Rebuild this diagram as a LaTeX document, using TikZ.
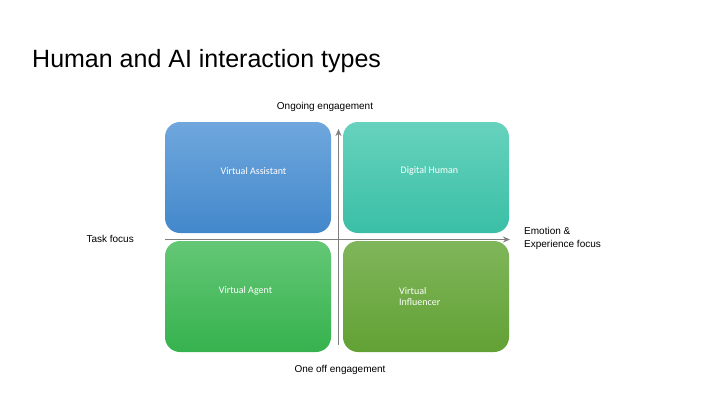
\documentclass[tikz,border=0pt]{standalone}
\usepackage{fontspec}
\setmainfont{Liberation Sans}
\newfontfamily\boxfont{Carlito}
\usetikzlibrary{arrows.meta}
\definecolor{vatop}{HTML}{6FA7DD}
\definecolor{vabot}{HTML}{4388CB}
\definecolor{dhtop}{HTML}{67D2BD}
\definecolor{dhbot}{HTML}{3ABFA6}
\definecolor{agtop}{HTML}{64C776}
\definecolor{agbot}{HTML}{36B24E}
\definecolor{vitop}{HTML}{80B65B}
\definecolor{vibot}{HTML}{62A134}
\definecolor{axis}{HTML}{7F7F7F}
\tikzset{
  quad/.style={rounded corners=15pt, minimum width=166pt, minimum height=111pt,
    inner sep=0pt},
  qtext/.style={text=white, inner sep=0pt, font=\boxfont\fontsize{10}{11.5}\selectfont},
  lbl/.style={font=\fontsize{10}{13}\selectfont, inner sep=0pt}
}
\begin{document}
\begin{tikzpicture}[x=1pt, y=-1pt]
      \useasboundingbox[fill=white] (0,0) rectangle (720,405);
      \node[anchor=base west, font=\fontsize{25}{30}\selectfont, inner sep=0pt] (title) at (32,67) {Human and AI interaction types};
      \draw
        (248,177.5) node[quad, top color=vatop, bottom color=vabot] (0){}
        (426,177.5) node[quad, top color=dhtop, bottom color=dhbot] (1){}
        (248,296.5) node[quad, top color=agtop, bottom color=agbot] (2){}
        (426,296.5) node[quad, top color=vitop, bottom color=vibot] (3){};
      \node[qtext] (va) at (253.5,171) {Virtual Assistant};
      \node[qtext] (dh) at (429.5,171) {Digital Human};
      \node[qtext] (ag) at (245.5,291) {Virtual Agent};
      \node[qtext, align=left, anchor=west] (vi) at (399,296.5) {Virtual\\Influencer};
      \coordinate (up) at (338.5,129);
      \coordinate (down) at (338.5,345);
      \coordinate (left) at (165,239.5);
      \coordinate (right) at (510,239.5);
      \begin{scope}[draw=axis, line width=0.9pt, -{Stealth[length=7pt, width=6pt]}]
        \draw (down) to (up);
        \draw (left) to (right);
      \end{scope}
      \node[lbl] (og) at (325,107) {Ongoing engagement};
      \node[lbl] (oo) at (340,370) {One off engagement};
      \node[lbl, anchor=east] (tf) at (134,239) {Task focus};
      \node[lbl, anchor=west, align=left] (ef) at (524,238.5) {Emotion \&\\Experience focus};
    \end{tikzpicture}
\end{document}
